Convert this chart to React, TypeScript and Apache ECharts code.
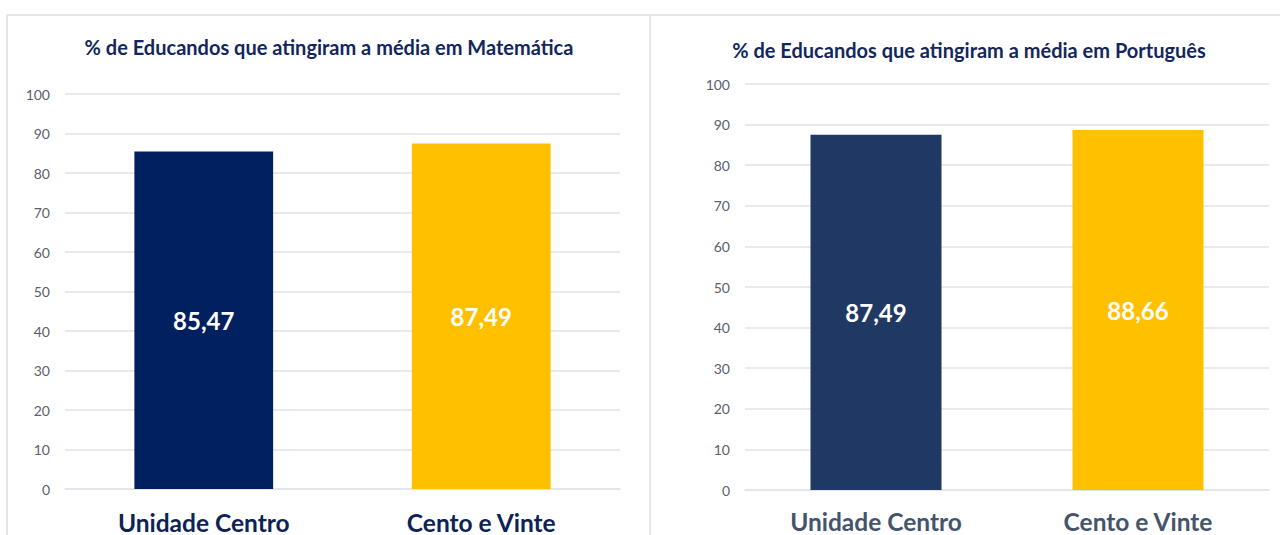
import React, { useEffect, useRef } from "react";
import * as echarts from "echarts";

const categories = ["Unidade Centro", "Cento e Vinte"];
const mathValues = [85.47, 87.49];
const portValues = [87.49, 88.66];
const yTicks = { min: 0, max: 100, interval: 10 };
const mathTitle = "% de Educandos que atingiram a média em Matemática";
const portTitle = "% de Educandos que atingiram a média em Português";

const FONT = "Lato, 'Open Sans', sans-serif";

export default function App() {
  const ref = useRef<HTMLDivElement>(null);
  useEffect(() => {
    document.body.style.margin = "0";
    const chart = echarts.init(ref.current!, null, { renderer: "svg" });
    const fmt = (p: any) => p.value.toFixed(2).replace(".", ",");
    const yAxisBase = (gridIndex: number) => ({
      type: "value",
      gridIndex,
      min: yTicks.min,
      max: yTicks.max,
      interval: yTicks.interval,
      axisLine: { show: false },
      axisTick: { show: false },
      axisLabel: { color: "#595f6b", fontSize: 14, fontFamily: FONT, margin: 15 },
      splitLine: { lineStyle: { color: "#e0e4e9", width: 1.5 } },
    });
    const xAxisBase = (gridIndex: number, color: string, margin: number) => ({
      type: "category",
      gridIndex,
      data: categories,
      axisLine: { show: true, lineStyle: { color: "#e0e4e9", width: 1.5 } },
      axisTick: { show: false },
      axisLabel: {
        color,
        fontSize: 24.5,
        lineHeight: 24,
        fontWeight: "bold",
        fontFamily: FONT,
        margin,
      },
    });
    const titleStyle = { color: "#13275c", fontSize: 20, fontWeight: "bold", fontFamily: FONT };
    chart.setOption({
      animation: false,
      backgroundColor: "#ffffff",
      title: [
        { text: mathTitle, left: 324, top: 32, textAlign: "center", textStyle: titleStyle },
        { text: portTitle, left: 964, top: 35, textAlign: "center", textStyle: titleStyle },
      ],
      graphic: [
        { type: "line", shape: { x1: 7, y1: 15, x2: 1280, y2: 15 }, style: { stroke: "#e3e6ea", lineWidth: 2 } },
        { type: "line", shape: { x1: 7, y1: 15, x2: 7, y2: 535 }, style: { stroke: "#e3e6ea", lineWidth: 2 } },
        { type: "line", shape: { x1: 650, y1: 15, x2: 650, y2: 535 }, style: { stroke: "#e3e6ea", lineWidth: 2 } },
      ],
      grid: [
        { left: 65, right: 660, top: 94, bottom: 46, containLabel: false },
        { left: 745, right: 11, top: 84, bottom: 45, containLabel: false },
      ],
      xAxis: [xAxisBase(0, "#0d2357", 21), xAxisBase(1, "#44546a", 19.5)],
      yAxis: [yAxisBase(0), yAxisBase(1)],
      series: [
        {
          type: "bar",
          xAxisIndex: 0,
          yAxisIndex: 0,
          barWidth: "50%",
          data: mathValues.map((v, i) => ({ value: v, itemStyle: { color: i === 0 ? "#002060" : "#ffc000" } })),
          label: {
            show: true,
            position: "inside",
            formatter: fmt,
            color: "#ffffff",
            fontSize: 24,
            fontWeight: "bold",
            fontFamily: FONT,
          },
        },
        {
          type: "bar",
          xAxisIndex: 1,
          yAxisIndex: 1,
          barWidth: "50%",
          data: portValues.map((v, i) => ({ value: v, itemStyle: { color: i === 0 ? "#203864" : "#ffc000" } })),
          label: {
            show: true,
            position: "inside",
            formatter: fmt,
            color: "#ffffff",
            fontSize: 24,
            fontWeight: "bold",
            fontFamily: FONT,
          },
        },
      ],
    });
    return () => chart.dispose();
  }, []);
  return <div ref={ref} style={{ position: "fixed", left: 0, top: 0, width: 1280, height: 535 }} />;
}
